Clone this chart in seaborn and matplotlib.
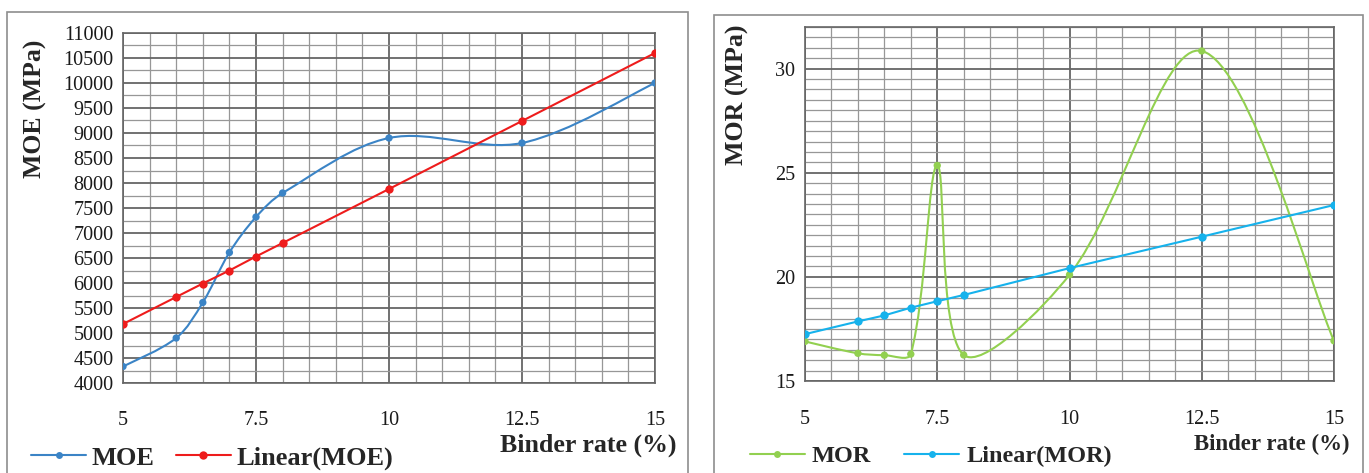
import numpy as np
import matplotlib
matplotlib.use("Agg")
import matplotlib.pyplot as plt
from matplotlib.path import Path
from matplotlib.patches import PathPatch, Rectangle
from matplotlib.lines import Line2D
from matplotlib.ticker import MultipleLocator
import seaborn as sns

# ---------------- data ----------------
binder_rate = [5, 6, 6.5, 7, 7.5, 8, 10, 12.5, 15]
moe = [4330, 4900, 5610, 6610, 7320, 7800, 8900, 8800, 10000]
moe_linear = [5180, 5720, 5990, 6250, 6530, 6800, 7880, 9240, 10600]
mor = [16.9, 16.33, 16.24, 16.29, 25.35, 16.25, 20.1, 30.85, 16.93]
mor_linear = [17.25, 17.86, 18.15, 18.52, 18.83, 19.13, 20.42, 21.93, 23.45]

x_ticks = [5, 7.5, 10, 12.5, 15]
x_tick_labels = ["5", "7.5", "10", "12.5", "15"]
moe_ticks = list(range(4000, 11001, 500))
mor_ticks = [15, 20, 25, 30]

# ---------------- style ----------------
sns.set_style("white")
plt.rcParams["font.family"] = ["Liberation Serif", "DejaVu Serif"]

W, H = 1369, 473
fig = plt.figure(figsize=(W / 100, H / 100), dpi=100)

BLUE = "#3b84c6"
RED = "#ee1c1c"
GREEN = "#92d050"
CYAN = "#16b2ec"
MAJOR_GRID = "#666666"
MINOR_GRID = "#979797"


def fig_ax(x0, x1, ytop, ybot):
    return fig.add_axes([x0 / W, (H - ybot) / H, (x1 - x0) / W, (ybot - ytop) / H])


def smooth_curve(ax, xs, ys, color, lw):
    """Excel-like smoothed line drawn as cubic Bezier segments through the data points."""
    bbox = ax.get_window_extent()
    xa, xb = ax.get_xlim()
    ya, yb = ax.get_ylim()
    sx = bbox.width / (xb - xa)
    sy = bbox.height / (yb - ya)
    P = np.column_stack([np.asarray(xs, float) * sx, np.asarray(ys, float) * sy])
    n = len(P)
    d = np.linalg.norm(np.diff(P, axis=0), axis=1)
    after = [None] * n
    before = [None] * n
    after[0] = P[0] + (P[1] - P[0]) / 6
    before[n - 1] = P[n - 1] - (P[n - 1] - P[n - 2]) / 6
    for i in range(1, n - 1):
        T = P[i + 1] - P[i - 1]
        s = d[i - 1] + d[i]
        after[i] = P[i] + T * (d[i] / s) / 3
        before[i] = P[i] - T * (d[i - 1] / s) / 3
    verts = [P[0]]
    codes = [Path.MOVETO]
    for i in range(n - 1):
        verts += [after[i], before[i + 1], P[i + 1]]
        codes += [Path.CURVE4] * 3
    verts = np.array(verts) / np.array([sx, sy])
    ax.add_patch(PathPatch(Path(verts, codes), facecolor="none", edgecolor=color,
                           lw=lw, zorder=3, capstyle="round", joinstyle="round"))


def style_axes(ax, ylim, ymajor, yminor, ylabels_pad, xpad):
    ax.set_xlim(5, 15)
    ax.set_ylim(*ylim)
    ax.set_xticks(x_ticks, labels=x_tick_labels)
    ax.xaxis.set_minor_locator(MultipleLocator(0.5))
    ax.yaxis.set_major_locator(MultipleLocator(ymajor))
    ax.yaxis.set_minor_locator(MultipleLocator(yminor))
    ax.set_axisbelow(True)
    ax.grid(which="major", color=MAJOR_GRID, lw=1.3)
    ax.grid(which="minor", color=MINOR_GRID, lw=0.9)
    for sp in ax.spines.values():
        sp.set_color(MAJOR_GRID)
        sp.set_linewidth(1.2)
    ax.tick_params(axis="both", which="major", direction="out", length=4.5,
                   width=1.1, color=MAJOR_GRID, labelsize=14.5, labelcolor="#1a1a1a")
    ax.tick_params(axis="y", which="major", pad=ylabels_pad)
    ax.tick_params(axis="x", which="major", pad=xpad)
    ax.tick_params(which="minor", length=0)
    ax.set_xlabel("")
    ax.set_ylabel("")


# chart area borders
fig.add_artist(Rectangle((7 / W, -0.05), (688 - 7) / W, (H - 12) / H + 0.05,
                         transform=fig.transFigure, facecolor="none",
                         edgecolor="#8e8e8e", lw=1.2))
fig.add_artist(Rectangle((714 / W, -0.05), (1363 - 714) / W, (H - 15) / H + 0.05,
                         transform=fig.transFigure, facecolor="none",
                         edgecolor="#8e8e8e", lw=1.2))

# ---------------- left: MOE ----------------
ax1 = fig_ax(123, 655, 33, 383)
style_axes(ax1, (4000, 11000), 500, 250, 2.5, 16)
ax1.set_yticks(moe_ticks, labels=[str(v) for v in moe_ticks])
smooth_curve(ax1, binder_rate, moe, BLUE, 1.5)
sns.scatterplot(x=binder_rate, y=moe, ax=ax1, color=BLUE, s=28, edgecolor="none",
                zorder=4, legend=False)
sns.lineplot(x=binder_rate, y=moe_linear, ax=ax1, color=RED, lw=1.5, marker="o",
             markersize=6, markeredgewidth=0, sort=False, zorder=4, legend=False)

fig.text(35 / W, 1 - 109 / H, "MOE (MPa)", rotation=90, ha="center", va="center",
         fontsize=18.5, fontweight="bold")
fig.text(676 / W, 1 - 445 / H, "Binder rate (%)", ha="right", va="center",
         fontsize=18.6, fontweight="bold")

h1 = [Line2D([], [], color=BLUE, lw=1.5, marker="o", markersize=5, markeredgewidth=0),
      Line2D([], [], color=RED, lw=1.5, marker="o", markersize=6, markeredgewidth=0)]
ax1.legend(h1, ["MOE", "Linear(MOE)"], loc="center left",
           bbox_to_anchor=(31 / W, 1 - 458 / H), bbox_transform=fig.transFigure,
           ncol=2, frameon=False, borderpad=0, borderaxespad=0,
           handlelength=2.1, handletextpad=0.2, columnspacing=0.8,
           prop={"family": ["Liberation Serif"], "weight": "bold", "size": 19})

# ---------------- right: MOR ----------------
ax2 = fig_ax(805, 1334, 27, 381)
style_axes(ax2, (15, 32), 5, 0.5, 2.5, 16.5)
ax2.set_yticks(mor_ticks, labels=[str(v) for v in mor_ticks])
smooth_curve(ax2, binder_rate, mor, GREEN, 1.5)
sns.scatterplot(x=binder_rate, y=mor, ax=ax2, color=GREEN, s=28, edgecolor="none",
                zorder=4, legend=False)
sns.lineplot(x=binder_rate, y=mor_linear, ax=ax2, color=CYAN, lw=1.5, marker="o",
             markersize=6, markeredgewidth=0, sort=False, zorder=4, legend=False)

fig.text(737 / W, 1 - 95 / H, "MOR (MPa)", rotation=90, ha="center", va="center",
         fontsize=18.6, fontweight="bold")
fig.text(1349 / W, 1 - 444 / H, "Binder rate (%)", ha="right", va="center",
         fontsize=16.5, fontweight="bold")

h2 = [Line2D([], [], color=GREEN, lw=1.5, marker="o", markersize=5, markeredgewidth=0),
      Line2D([], [], color=CYAN, lw=1.5, marker="o", markersize=5, markeredgewidth=0)]
ax2.legend(h2, ["MOR", "Linear(MOR)"], loc="center left",
           bbox_to_anchor=(750 / W, 1 - 456 / H), bbox_transform=fig.transFigure,
           ncol=2, frameon=False, borderpad=0, borderaxespad=0,
           handlelength=2.26, handletextpad=0.29, columnspacing=1.36,
           prop={"family": ["Liberation Serif"], "weight": "bold", "size": 17.5})

fig.savefig("out.png", dpi=100)
